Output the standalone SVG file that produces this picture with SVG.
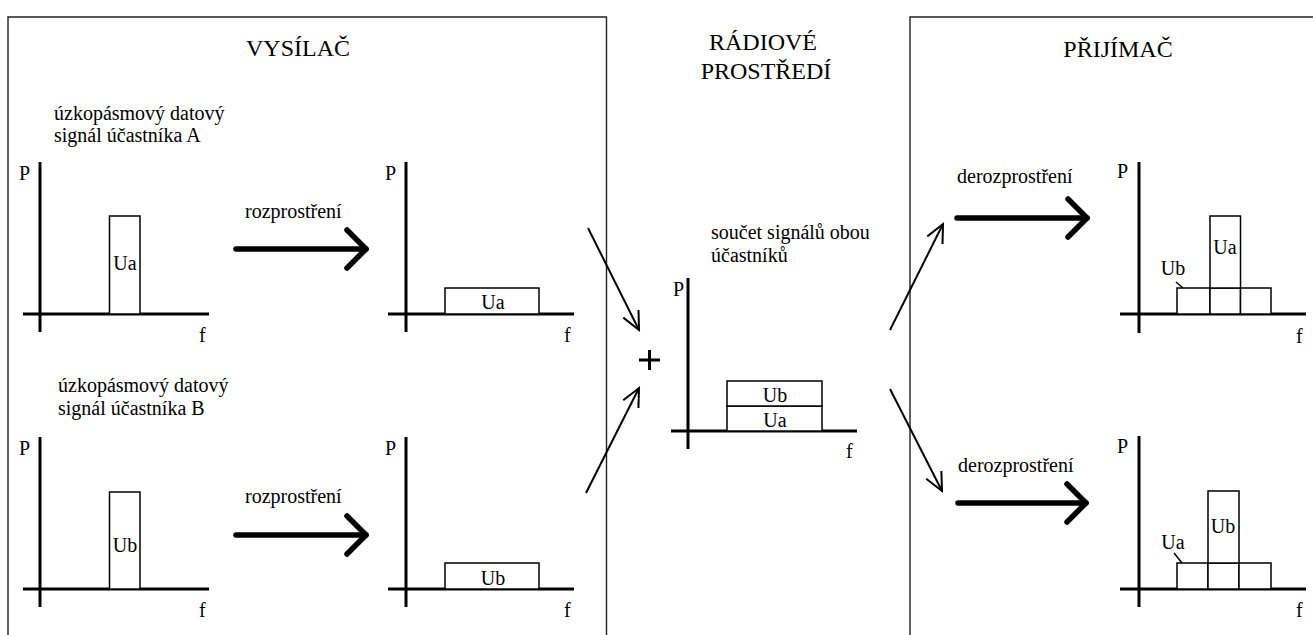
<svg xmlns="http://www.w3.org/2000/svg" width="1313" height="635" viewBox="0 0 1313 635" font-family="Liberation Serif, serif" font-size="20">
<defs>
<style>
.bg{fill:#ffffff}
.frame{fill:none;stroke:#222;stroke-width:1.4}
.axis{stroke:#000;stroke-width:3;fill:none}
.bar{fill:#fff;stroke:#000;stroke-width:1.5}
.lead{stroke:#000;stroke-width:1.5;fill:none}
.thin{stroke:#000;stroke-width:2;fill:none}
.thick{stroke:#000;stroke-width:5.5;fill:none;stroke-linecap:round}
.plus{stroke:#000;stroke-width:3;fill:none}
.tt{font-size:24px}
.mid{text-anchor:middle}
</style>
<marker id="thinHead" markerUnits="userSpaceOnUse" viewBox="-22 -12 24 24" markerWidth="24" markerHeight="24" refX="0" refY="0" orient="auto" overflow="visible">
<path d="M-18.1,-8.5 L0,0 L-18.1,8.5" fill="none" stroke="#000" stroke-width="2"/>
</marker>
<marker id="thickHead" markerUnits="userSpaceOnUse" viewBox="-24 -24 28 48" markerWidth="28" markerHeight="48" refX="0" refY="0" orient="auto" overflow="visible">
<path d="M-19,-19 L0,0 L-19,19" fill="none" stroke="#000" stroke-width="5.5" stroke-linecap="round" stroke-linejoin="round"/>
</marker>
</defs>
<rect class="bg" x="0" y="0" width="1313" height="635"/>

<g id="transmitter">
<path class="frame" d="M8,640 V17 H606.5 V640"/>
<text class="tt mid" x="298" y="56">VYSÍLAČ</text>
<text x="54" y="120">úzkopásmový datový</text>
<text x="54" y="142">signál účastníka A</text>
<text x="58" y="392">úzkopásmový datový</text>
<text x="58" y="415">signál účastníka B</text>
<text x="245" y="218">rozprostření</text>
<text x="245" y="503">rozprostření</text>
</g>

<g id="chart-a-narrow">
<line class="axis" x1="40" y1="162" x2="40" y2="332"/>
<line class="axis" x1="23" y1="314" x2="209" y2="314"/>
<rect class="bar" x="109.5" y="216" width="30.5" height="98"/>
<text class="mid" x="125" y="270">Ua</text>
<text x="19" y="180">P</text>
<text x="199" y="342">f</text>
</g>

<g id="chart-a-spread">
<line class="axis" x1="406" y1="162" x2="406" y2="332"/>
<line class="axis" x1="388" y1="314" x2="574" y2="314"/>
<rect class="bar" x="445" y="288" width="94" height="26"/>
<text class="mid" x="493" y="309">Ua</text>
<text x="385" y="180">P</text>
<text x="564" y="342">f</text>
</g>

<g id="chart-b-narrow">
<line class="axis" x1="40" y1="437" x2="40" y2="607"/>
<line class="axis" x1="23" y1="589" x2="209" y2="589"/>
<rect class="bar" x="109.5" y="492" width="30.5" height="97"/>
<text class="mid" x="125" y="552">Ub</text>
<text x="19" y="455">P</text>
<text x="199" y="617">f</text>
</g>

<g id="chart-b-spread">
<line class="axis" x1="406" y1="437" x2="406" y2="607"/>
<line class="axis" x1="388" y1="589" x2="574" y2="589"/>
<rect class="bar" x="445" y="563" width="94" height="26"/>
<text class="mid" x="493" y="585">Ub</text>
<text x="385" y="455">P</text>
<text x="564" y="617">f</text>
</g>

<g id="medium">
<text class="tt mid" x="763" y="50">RÁDIOVÉ</text>
<text class="tt mid" x="766" y="79">PROSTŘEDÍ</text>
<text x="711" y="239">součet signálů obou</text>
<text x="711" y="262">účastníků</text>
<path class="plus" d="M639,360 H660 M649.5,350 V370"/>
</g>

<g id="chart-sum">
<line class="axis" x1="688" y1="278" x2="688" y2="449"/>
<line class="axis" x1="671" y1="431" x2="857" y2="431"/>
<rect class="bar" x="727" y="406" width="95" height="25"/>
<rect class="bar" x="727" y="381" width="95" height="25"/>
<text class="mid" x="775" y="402">Ub</text>
<text class="mid" x="775" y="427">Ua</text>
<text x="673" y="296">P</text>
<text x="846" y="458">f</text>
</g>

<g id="receiver">
<path class="frame" d="M910,640 V17 H1320"/>
<text class="tt mid" x="1118" y="57">PŘIJÍMAČ</text>
<text x="957" y="183">derozprostření</text>
<text x="958" y="472">derozprostření</text>
</g>

<g id="chart-rx-a">
<line class="axis" x1="1139" y1="162" x2="1139" y2="333"/>
<line class="axis" x1="1120" y1="314" x2="1306" y2="314"/>
<rect class="bar" x="1177" y="288" width="33" height="26"/>
<rect class="bar" x="1210" y="288" width="30.5" height="26"/>
<rect class="bar" x="1240.5" y="288" width="30.5" height="26"/>
<rect class="bar" x="1210" y="216" width="30.5" height="72"/>
<text class="mid" x="1225" y="254">Ua</text>
<text class="mid" x="1173" y="275">Ub</text>
<line class="lead" x1="1176" y1="282" x2="1183" y2="288"/>
<text x="1117" y="178">P</text>
<text x="1296" y="343">f</text>
</g>

<g id="chart-rx-b">
<line class="axis" x1="1139" y1="436" x2="1139" y2="607"/>
<line class="axis" x1="1120" y1="589" x2="1306" y2="589"/>
<rect class="bar" x="1177" y="563" width="31" height="26"/>
<rect class="bar" x="1208" y="563" width="31" height="26"/>
<rect class="bar" x="1239" y="563" width="32" height="26"/>
<rect class="bar" x="1208" y="491" width="31" height="72"/>
<text class="mid" x="1223" y="533">Ub</text>
<text class="mid" x="1173" y="549">Ua</text>
<line class="lead" x1="1174" y1="553" x2="1182" y2="563"/>
<text x="1117" y="453">P</text>
<text x="1296" y="617">f</text>
</g>

<g id="connectors">
<line class="thick" x1="236" y1="249" x2="366" y2="249" marker-end="url(#thickHead)"/>
<line class="thick" x1="236" y1="535" x2="366" y2="535" marker-end="url(#thickHead)"/>
<line class="thick" x1="957" y1="218" x2="1087" y2="218" marker-end="url(#thickHead)"/>
<line class="thick" x1="958" y1="503" x2="1086" y2="503" marker-end="url(#thickHead)"/>
<line class="thin" x1="588" y1="228" x2="639" y2="330" marker-end="url(#thinHead)"/>
<line class="thin" x1="586" y1="493" x2="639" y2="388" marker-end="url(#thinHead)"/>
<line class="thin" x1="890" y1="330" x2="943" y2="224" marker-end="url(#thinHead)"/>
<line class="thin" x1="890" y1="389" x2="942" y2="491" marker-end="url(#thinHead)"/>
</g>
</svg>
